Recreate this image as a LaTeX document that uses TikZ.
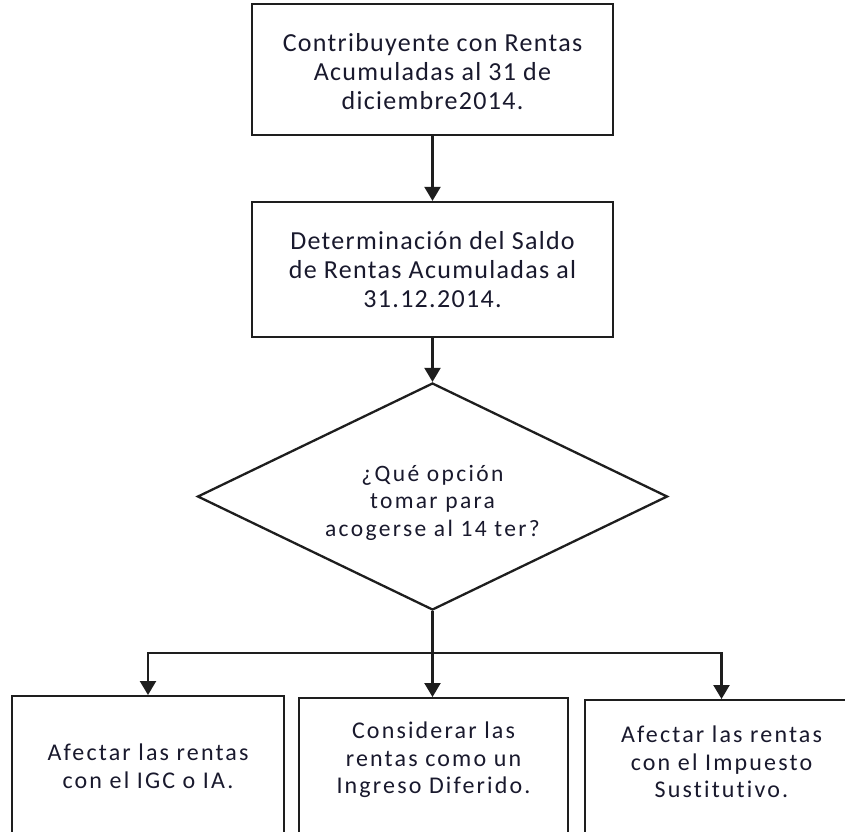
\documentclass[tikz,border=0pt]{standalone}
\usepackage{fontspec}
\setmainfont{Carlito}[Ligatures=NoCommon]
\newfontfamily\ftop{Carlito}[LetterSpace=5,Ligatures=NoCommon]
\newfontfamily\fbot{Carlito}[LetterSpace=9,Ligatures=NoCommon]
\newfontfamily\fdia{Carlito}[LetterSpace=10,Ligatures=NoCommon]
\usetikzlibrary{arrows.meta,shapes.geometric}
\definecolor{ln}{RGB}{30,30,30}
\definecolor{tx}{RGB}{25,25,45}
\begin{document}
\begin{tikzpicture}[x=1pt,y=-1pt,
  box/.style={draw=ln,line width=2.3pt,rectangle,inner sep=0pt},
  toptxt/.style={text=tx,align=center,font=\ftop\fontsize{26}{29}\selectfont},
  bottxt/.style={text=tx,align=center,font=\fbot\fontsize{24}{27.5}\selectfont},
  diatxt/.style={text=tx,align=center,font=\fdia\fontsize{23.5}{27.5}\selectfont},
  arr/.style={draw=ln,line width=2.3pt,-{Triangle[width=16pt,length=14pt]}},
  conn/.style={draw=ln,line width=2.3pt},
  ]
\useasboundingbox (0,0) rectangle (845,831);
\clip (0,0) rectangle (845,831);
\fill[white] (0,0) rectangle (845,831);

\node[box,minimum width=361pt,minimum height=131pt] (b1) at (432.5,69.5) {};
\node[toptxt] (b1t) at (432.5,72) {Contribuyente con Rentas\\Acumuladas al 31 de\\diciembre2014.};
\node[box,toptxt,minimum width=361pt,minimum height=135pt] (b2) at (432.5,269.5)
  {Determinación del Saldo\\de Rentas Acumuladas al\\31.12.2014.};
\node[draw=ln,line width=2.3pt,diamond,inner sep=0pt,minimum width=470pt,minimum height=227pt] (d) at (432.5,496.5) {};
\node[diatxt] (dt) at (432.5,502.5) {¿Qué opción\\tomar para\\acogerse al 14 ter?};

\node[box,minimum width=272pt,minimum height=205pt,anchor=north] (l) at (148,695) {};
\node[box,minimum width=269pt,minimum height=205pt,anchor=north] (m) at (433.5,697) {};
\node[box,minimum width=273pt,minimum height=205pt,anchor=north] (r) at (721.5,699) {};

\node[bottxt] (lt) at (148,766) {Afectar las rentas\\con el IGC o IA.};
\node[bottxt] (mt) at (433.5,760) {Considerar las\\rentas como un\\Ingreso Diferido.};
\node[bottxt] (rt) at (721.5,762) {Afectar las rentas\\con el Impuesto\\Sustitutivo.};

\coordinate (j) at (432.5,653);

\draw[arr] (b1.south) -- (b2.north);
\draw[arr] (b2.south) -- (d.north);
\draw[conn] (d.south) -- (j);
\draw[arr] (j) -| (l.north);
\draw[arr] (j) -- (j |- m.north);
\draw[arr] (j) -| (r.north);
\end{tikzpicture}
\end{document}
